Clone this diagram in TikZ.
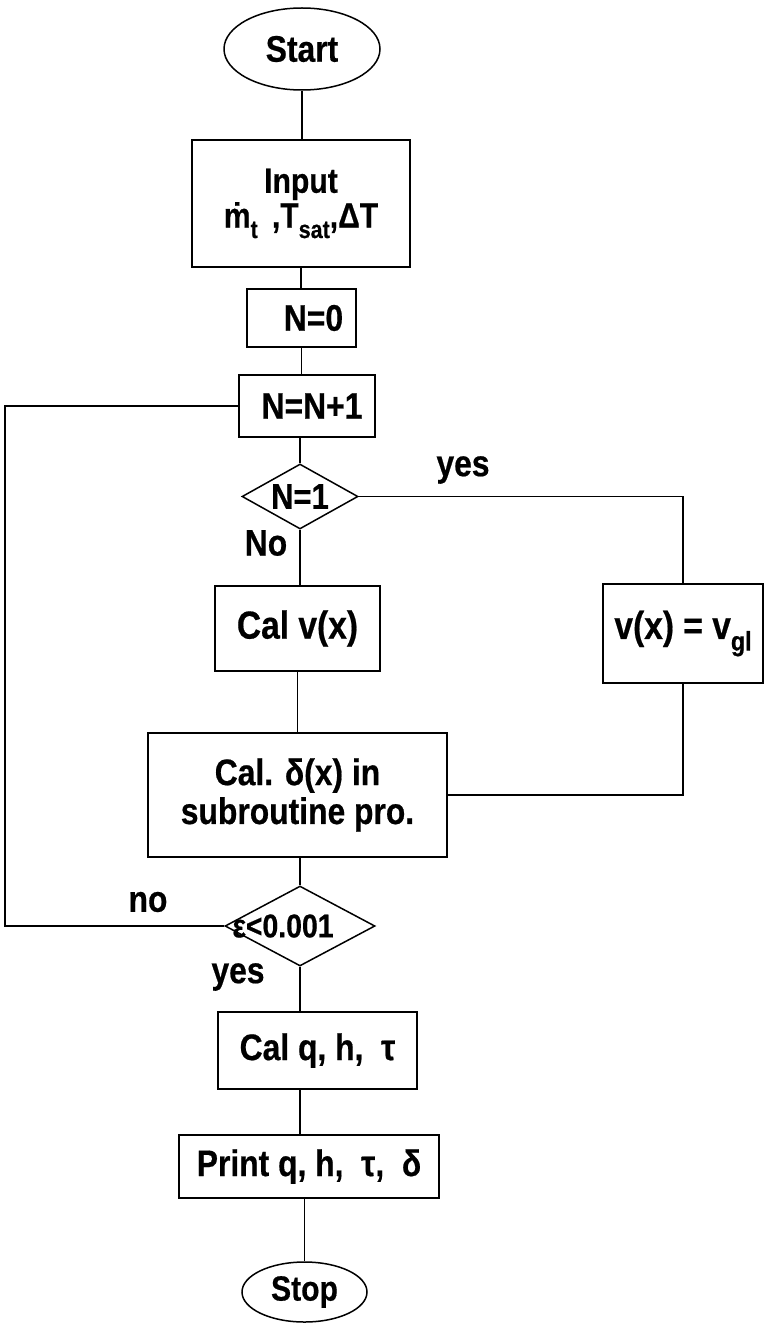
\documentclass[tikz,border=0pt]{standalone}
\usepackage{fontspec}
\setmainfont{Liberation Sans}[FakeStretch=0.86,BoldFeatures={FakeBold=0.5}]
\usetikzlibrary{shapes.geometric}
\newcommand\fsz[1]{\bfseries\fontsize{#1pt}{1.05\dimexpr #1pt\relax}\selectfont}
\newcommand\lowsub[2][25]{\raisebox{-0.3em}{\fontsize{#1pt}{#1pt}\selectfont #2}}
\begin{document}
\begin{tikzpicture}[x=1pt,y=-1pt,
  every node/.style={font=\fsz{37}},
  term/.style={ellipse,draw,line width=1.5pt,inner sep=0pt},
  stepbox/.style={rectangle,draw,line width=1.7pt,inner sep=0pt},
  decision/.style={diamond,draw,line width=1.5pt,inner sep=0pt},
  lbl/.style={inner sep=0pt},
  conn/.style={line width=1.2pt}]
\useasboundingbox (0,0) rectangle (765,1324);

% nodes
\node[term,minimum width=156pt,minimum height=82pt] (start) at (302,49) {Start};
\node[stepbox,minimum width=218pt,minimum height=127pt,align=center,font=\fsz{35}] (input) at (301,203.5)
  {Input\\[-2pt]ṁ\lowsub{t}\ \,,T\lowsub{sat},ΔT};
\node[stepbox,minimum width=109pt,minimum height=58pt] (n0) at (301.5,318) {\hspace{24pt}N=0};
\node[stepbox,minimum width=136pt,minimum height=62pt] (nn) at (307,406) {\hspace{10pt}N=N+1};
\node[decision,minimum width=116pt,minimum height=65pt] (d1) at (300,496.5) {\makebox[0pt]{\fsz{36}N=1}};
\node[stepbox,minimum width=165pt,minimum height=85pt,font=\fsz{39}] (calv) at (297.5,628.5) {Cal v(x)};
\node[stepbox,minimum width=160pt,minimum height=99pt,font=\fsz{39}] (vgl) at (683,633.5) {v(x) = v\lowsub[27]{gl}};
\node[stepbox,minimum width=299pt,minimum height=124pt,align=center,font=\fsz{37}] (cald) at (297.5,795)
  {Cal. δ(x) in\\subroutine pro.};
\node[decision,minimum width=150pt,minimum height=80pt] (d2) at (300,926) {\makebox[0pt]{\fsz{33}ε<0.001\hspace{34pt}}};
\node[stepbox,minimum width=199pt,minimum height=77pt] (calq) at (317.5,1050.5) {Cal q,\ h,\ \ τ};
\node[stepbox,minimum width=260pt,minimum height=63pt] (print) at (309,1166.5) {Print q,\ h,\ \ τ,\ \ δ};
\node[term,minimum width=125pt,minimum height=60pt,font=\fsz{35}] (stop) at (304.5,1292) {Stop};

% labels
\node[lbl] (lyes1) at (463,470) {yes};
\node[lbl] (lNo) at (266,543) {No};
\node[lbl] (lno) at (148,902) {no};
\node[lbl] (lyes2) at (238,977) {yes};

\coordinate (loopx) at (5,0);

% connectors
\draw[conn] (start.south) -- (start.south |- input.north);
\draw[conn] (input.south) -- (input.south |- n0.north);
\draw[conn] (n0.south) -- (n0.south |- nn.north);
\draw[conn] (nn.south -| d1.north) -- (d1.north);
\draw[conn] (d1.south) -- (d1.south |- calv.north);
\draw[conn] (d1.east) -- (vgl.north |- d1.east) -- (vgl.north);
\draw[conn] (calv.south) -- (calv.south |- cald.north);
\draw[conn] (vgl.south) -- (vgl.south |- cald.east) -- (cald.east);
\draw[conn] (cald.south -| d2.north) -- (d2.north);
\draw[conn] (d2.west) -- (d2.west -| loopx) -- (nn.west -| loopx) -- (nn.west);
\draw[conn] (d2.south) -- (d2.south |- calq.north);
\draw[conn] (calq.south -| d2.south) -- (print.north -| d2.south);
\draw[conn] (print.south -| stop.north) -- (stop.north);
\end{tikzpicture}
\end{document}
